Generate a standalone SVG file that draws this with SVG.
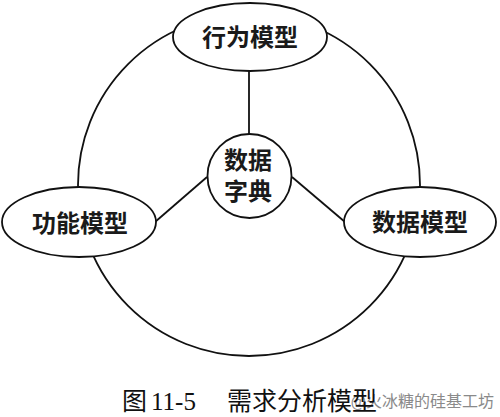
<svg xmlns="http://www.w3.org/2000/svg" width="500" height="417" viewBox="0 0 500 417">
<style>
.s{fill:none;stroke:#111;stroke-width:1.8}
.n{fill:#fff;stroke:#111;stroke-width:1.8}
.t{font-family:"Noto Sans CJK SC","Noto Sans",sans-serif;font-size:24px;font-weight:700;fill:#1a1a1a;text-anchor:middle}
.c{font-family:"Noto Sans CJK SC",sans-serif;font-size:25px;fill:#111}
.d{font-family:"Liberation Serif",serif;font-size:25px;fill:#111}
.w{font-family:"Noto Sans CJK SC",sans-serif;font-size:16px;fill:#8a8a8a;text-anchor:end}
</style>
<rect width="500" height="417" fill="#fff"/>
<g id="ring"><circle class="s" cx="249" cy="185" r="171"/></g>
<g id="connectors">
<line class="s" x1="249" y1="71" x2="249" y2="134"/>
<line class="s" x1="207" y1="177" x2="155" y2="222"/>
<line class="s" x1="292" y1="177" x2="345" y2="222"/>
</g>
<g id="behavior"><ellipse class="n" cx="250" cy="37" rx="77" ry="34"/><text class="t" x="250" y="46">行为模型</text></g>
<g id="function"><ellipse class="n" cx="79" cy="222" rx="77" ry="35"/><text class="t" x="80" y="232">功能模型</text></g>
<g id="data"><ellipse class="n" cx="420" cy="222" rx="76" ry="35"/><text class="t" x="420" y="231">数据模型</text></g>
<g id="dict"><circle class="n" cx="249.5" cy="176" r="42"/><text class="t" x="248" y="169">数据</text><text class="t" x="248" y="200">字典</text></g>
<g id="caption">
<text class="w" x="494" y="407">@火冰糖的硅基工坊</text>
<text class="c" x="122" y="410" font-size="22">图</text>
<text class="d" x="151" y="410">11-5</text>
<text class="c" x="227" y="410">需求分析模型</text>
</g>
</svg>
